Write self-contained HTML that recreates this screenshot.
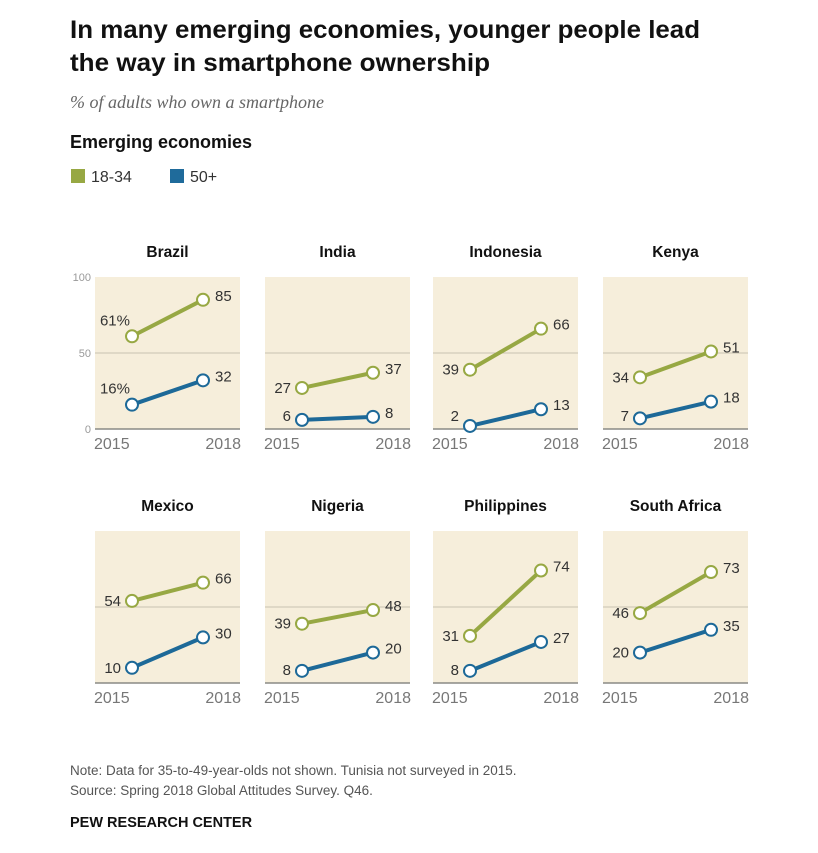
<!DOCTYPE html>
<html><head><meta charset="utf-8"><style>
body{margin:0;background:#fff;}
svg{display:block;font-family:"Liberation Sans",sans-serif;}
</style></head><body>
<svg width="818" height="853" viewBox="0 0 818 853">
<text x="70" y="38" font-size="25" font-weight="bold" fill="#111" textLength="630" lengthAdjust="spacingAndGlyphs">In many emerging economies, younger people lead</text>
<text x="70" y="71" font-size="25" font-weight="bold" fill="#111" textLength="420" lengthAdjust="spacingAndGlyphs">the way in smartphone ownership</text>
<text x="70" y="108" font-size="18" font-style="italic" font-family="Liberation Serif,serif" fill="#666">% of adults who own a smartphone</text>
<text x="70" y="148" font-size="18" font-weight="bold" fill="#111">Emerging economies</text>
<rect x="71" y="169" width="14" height="14" fill="#97a843"/>
<text x="91" y="182" font-size="16" fill="#333">18-34</text>
<rect x="170" y="169" width="14" height="14" fill="#1f6b9b"/>
<text x="190" y="182" font-size="16" fill="#333">50+</text>
<g id="panels"></g>
<text x="70" y="775" font-size="13.5" fill="#555">Note: Data for 35-to-49-year-olds not shown. Tunisia not surveyed in 2015.</text>
<text x="70" y="795" font-size="13.5" fill="#555">Source: Spring 2018 Global Attitudes Survey. Q46.</text>
<text x="70" y="827" font-size="14.5" font-weight="bold" fill="#111">PEW RESEARCH CENTER</text>
</svg>
<script>
const countries=["Brazil","India","Indonesia","Kenya","Mexico","Nigeria","Philippines","South Africa"];
const young2015=[61,27,39,34,54,39,31,46];
const young2018=[85,37,66,51,66,48,74,73];
const old2015=[16,6,2,7,10,8,8,20];
const old2018=[32,8,13,18,30,20,27,35];
const yTicks=[0,50,100];
const years=["2015","2018"];
const NS="http://www.w3.org/2000/svg";
const root=document.getElementById("panels");
function mk(tag,attrs,parent){const e=document.createElementNS(NS,tag);for(const k in attrs)e.setAttribute(k,attrs[k]);parent.appendChild(e);return e;}
const panelLeft=[95,265,433,603];
const panelW=145;
const rowBase=[429,683];
for(let i=0;i<countries.length;i++){
  const col=i%4,row=Math.floor(i/4);
  const x0=panelLeft[col],base=rowBase[row];
  const ys=v=>base-v*1.52;
  const xs=j=>x0+(j===0?37:108);
  const g=mk("g",{},root);
  
  
  const bg=mk("rect",{x:x0,y:ys(100),width:panelW,height:152,fill:"#f6eedb"},g);
  
  
  const mid=mk("line",{x1:x0,x2:x0+panelW,y1:ys(50),y2:ys(50),stroke:"#c8c2b2","stroke-width":1},g);
  
  
  const ax=mk("line",{x1:x0,x2:x0+panelW,y1:base,y2:base,stroke:"#8a8a85","stroke-width":1.5},g);
  
  
  const t=mk("text",{x:x0+panelW/2,y:ys(100)-20,"font-size":15.5,"font-weight":"bold","text-anchor":"middle",fill:"#111"},g);
  t.textContent=countries[i];
  
  
  const yl0=mk("text",{x:x0-1,y:base+20,"font-size":16,fill:"#777"},g);
  yl0.textContent=years[0];
  
  
  const yl1=mk("text",{x:x0+panelW+1,y:base+20,"font-size":16,fill:"#777","text-anchor":"end"},g);
  yl1.textContent=years[1];
  
  
  if(i===0){
    yTicks.forEach(v=>{const tk=mk("text",{x:x0-4,y:ys(v)+4,"font-size":11,fill:"#999","text-anchor":"end"},g);tk.textContent=v;
      
      });
  }
  const series=[[young2015[i],young2018[i],"#97a843","young"],[old2015[i],old2018[i],"#1d6998","old"]];
  series.forEach(([a,b,c,n])=>{
    const ln=mk("line",{x1:xs(0),y1:ys(a),x2:xs(1),y2:ys(b),stroke:c,"stroke-width":4},g);
    
    
    [[0,a],[1,b]].forEach(([j,v])=>{
      const p=mk("circle",{cx:xs(j),cy:ys(v),r:6,fill:"#fff",stroke:c,"stroke-width":2},g);
      
      
      let lx,ly,anc;
      if(j===1){lx=xs(1)+12;ly=ys(v)+1;anc="start";}
      else if(i===0){lx=xs(0)-2;ly=ys(v)-11;anc="end";}
      else{lx=xs(0)-11;ly=Math.min(ys(v)+5,base-8);anc="end";}
      const lb=mk("text",{x:lx,y:ly,"font-size":15,fill:"#333","text-anchor":anc},g);
      lb.textContent=v+(i===0&&j===0?"%":"");
      
      
    });
  });
}
</script>
</body></html>
